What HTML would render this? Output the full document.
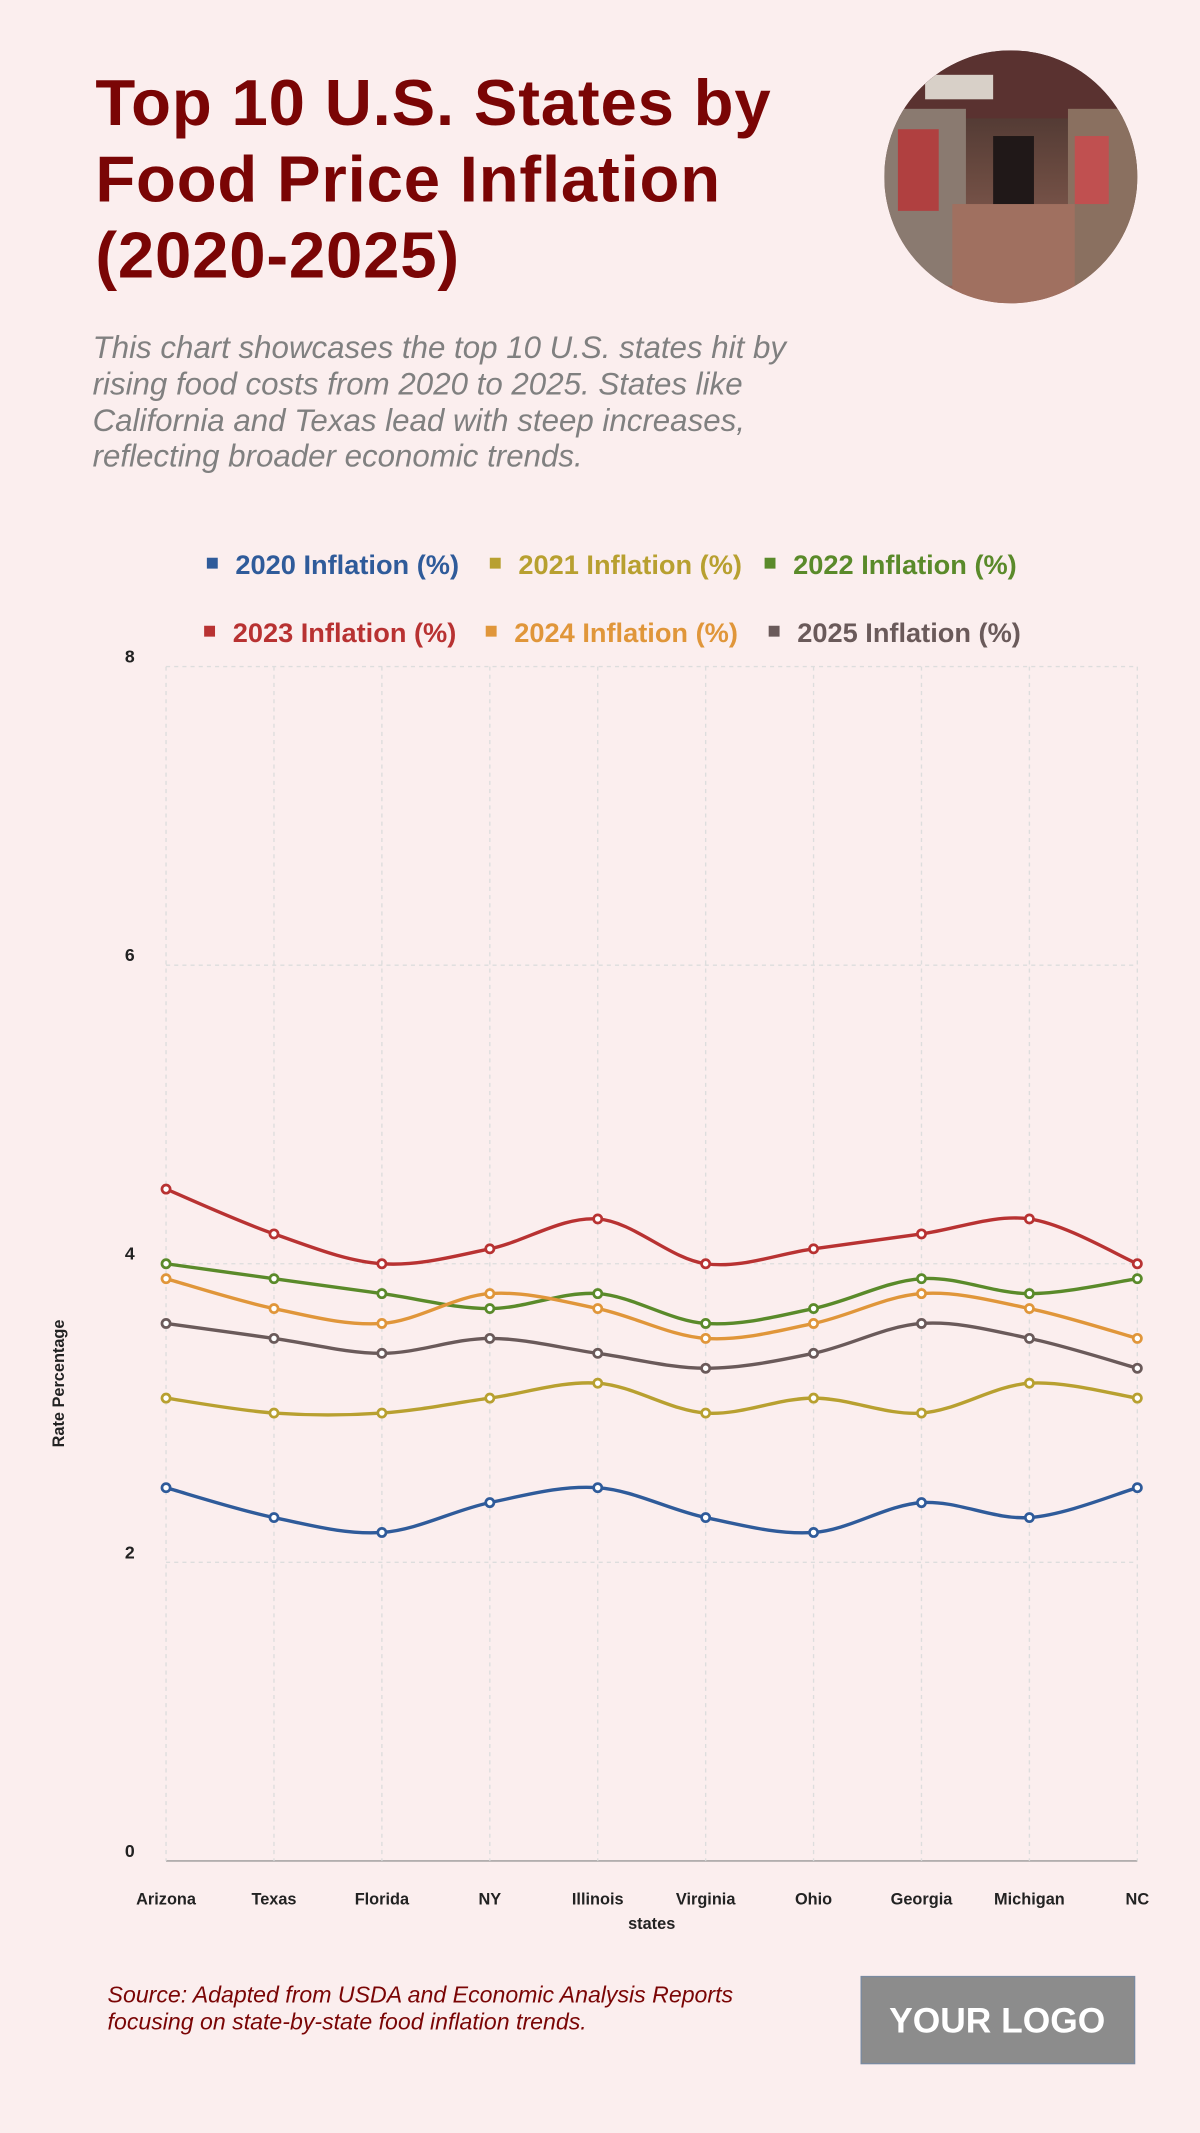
<!DOCTYPE html>
<html><head><meta charset="utf-8"><style>
html,body{margin:0;padding:0;background:#fbeeee}
svg{display:block}
text{font-family:"Liberation Sans",sans-serif}
</style></head><body>
<svg id="chart" width="1200" height="2133" viewBox="0 0 882 1568" xmlns="http://www.w3.org/2000/svg">
<rect width="882" height="1568" fill="#fbeeee"/>
<g fill="#7a0505" font-weight="bold" font-size="48" letter-spacing="0.6">
<text x="70" y="92">Top 10 U.S. States by</text>
<text x="70" y="148">Food Price Inflation</text>
<text x="70" y="204">(2020-2025)</text>
</g>
<g fill="#808080" font-style="italic" font-size="23">
<text x="68" y="263">This chart showcases the top 10 U.S. states hit by</text>
<text x="68" y="290">rising food costs from 2020 to 2025. States like</text>
<text x="68" y="317">California and Texas lead with steep increases,</text>
<text x="68" y="343">reflecting broader economic trends.</text>
</g>
<defs>
<clipPath id="cc"><circle cx="743" cy="130" r="93"/></clipPath>
<linearGradient id="fl" x1="0" y1="0" x2="0" y2="1"><stop offset="0" stop-color="#3a2a28"/><stop offset="0.5" stop-color="#6a4a40"/><stop offset="1" stop-color="#9a6a60"/></linearGradient>
</defs>
<g clip-path="url(#cc)">
<rect x="650" y="37" width="186" height="186" fill="url(#fl)"/>
<rect x="650" y="37" width="186" height="50" fill="#5a3230"/>
<rect x="650" y="80" width="60" height="130" fill="#8a7a70"/>
<rect x="785" y="80" width="55" height="130" fill="#8a7060"/>
<rect x="660" y="95" width="30" height="60" fill="#b04040"/>
<rect x="790" y="100" width="25" height="50" fill="#c05050"/>
<rect x="730" y="100" width="30" height="60" fill="#201818"/>
<rect x="700" y="150" width="90" height="73" fill="#a07060"/>
<rect x="680" y="55" width="50" height="18" fill="#d8d0c8"/>
</g>
<g id="legend" font-weight="bold" font-size="20"></g>
<g id="plot"></g>
<text x="0" y="0" transform="translate(47,1017) rotate(-90)" text-anchor="middle" font-size="12" font-weight="bold" fill="#222">Rate Percentage</text>
<text x="479" y="1418" text-anchor="middle" font-size="12" font-weight="bold" fill="#222">states</text>
<g fill="#7a0505" font-style="italic" font-size="17">
<text x="79" y="1472">Source: Adapted from USDA and Economic Analysis Reports</text>
<text x="79" y="1492">focusing on state-by-state food inflation trends.</text>
</g>
<g>
<rect x="633" y="1453" width="201" height="64" fill="#8c8c8c" stroke="#7a8aa0" stroke-width="1"/>
<text x="733" y="1494" text-anchor="middle" fill="#fff" font-weight="bold" font-size="26">YOUR LOGO</text>
</g>
</svg>
<script>
const categories=["Arizona","Texas","Florida","NY","Illinois","Virginia","Ohio","Georgia","Michigan","NC"];
const seriesNames=["2020 Inflation (%)","2021 Inflation (%)","2022 Inflation (%)","2023 Inflation (%)","2024 Inflation (%)","2025 Inflation (%)"];
const s2020=[2.5,2.3,2.2,2.4,2.5,2.3,2.2,2.4,2.3,2.5];
const s2021=[3.1,3.0,3.0,3.1,3.2,3.0,3.1,3.0,3.2,3.1];
const s2022=[4.0,3.9,3.8,3.7,3.8,3.6,3.7,3.9,3.8,3.9];
const s2023=[4.5,4.2,4.0,4.1,4.3,4.0,4.1,4.2,4.3,4.0];
const s2024=[3.9,3.7,3.6,3.8,3.7,3.5,3.6,3.8,3.7,3.5];
const s2025=[3.6,3.5,3.4,3.5,3.4,3.3,3.4,3.6,3.5,3.3];
const yTicks=[0,2,4,6,8];
const series=[s2020,s2021,s2022,s2023,s2024,s2025];
const colors=["#2f5b9a","#b8a030","#5a8a2a","#b83232","#e0963a","#6a5a5a"];
const NS="http://www.w3.org/2000/svg";
const X0=122,X1=836,Y0=1368,Y8=490;
const xs=i=>X0+(X1-X0)*i/(categories.length-1);
const ys=v=>Y0-(Y0-Y8)*v/8;
function mk(t,a,p){const e=document.createElementNS(NS,t);for(const k in a)e.setAttribute(k,a[k]);p.appendChild(e);return e;}
const plot=document.getElementById('plot');
yTicks.forEach(t=>{
 const l=mk('line',{x1:X0,x2:X1,y1:ys(t),y2:ys(t),stroke:t===0?'#999':'#ddd','stroke-dasharray':t===0?'':'3,3'},plot);
 
 
 const tx=mk('text',{x:99,y:ys(t)-3,'text-anchor':'end','font-size':13,'font-weight':'bold',fill:'#222'},plot);
 tx.textContent=t;
 
 
});
categories.forEach((c,i)=>{
 const l=mk('line',{x1:xs(i),x2:xs(i),y1:Y8,y2:Y0,stroke:'#ddd','stroke-dasharray':'3,3'},plot);
 
 
 const tx=mk('text',{x:xs(i),y:1400,'text-anchor':'middle','font-size':12,'font-weight':'bold',fill:'#222'},plot);
 tx.textContent=c;
 
 
});
series.forEach((s,k)=>{
 const p=s.map((v,i)=>[xs(i),ys(v)]);
 let d='M'+p[0][0]+','+p[0][1];
 for(let i=0;i<p.length-1;i++){
  const a=p[Math.max(i-1,0)],b=p[i],c=p[i+1],e=p[Math.min(i+2,p.length-1)];
  d+=` C${b[0]+(c[0]-a[0])/6},${b[1]+(c[1]-a[1])/6} ${c[0]-(e[0]-b[0])/6},${c[1]-(e[1]-b[1])/6} ${c[0]},${c[1]}`;
 }
 const path=mk('path',{d:d,fill:'none',stroke:colors[k],'stroke-width':2.5},plot);
 
 
 p.forEach(q=>{
  const c=mk('circle',{cx:q[0],cy:q[1],r:3,fill:'#fff',stroke:colors[k],'stroke-width':2},plot);
  
  
 });
});
const lg=document.getElementById('legend');
const lpos=[[152,415],[360,415],[562,415],[150,465],[357,465],[565,465]];
seriesNames.forEach((n,k)=>{
 const g=mk('g',{},lg);
 
 
 mk('rect',{x:lpos[k][0],y:lpos[k][1]-5,width:8,height:8,fill:colors[k]},g);
 const t=mk('text',{x:lpos[k][0]+21,y:lpos[k][1]+7,fill:colors[k]},g);
 t.textContent=n;
});
</script>
</body></html>
